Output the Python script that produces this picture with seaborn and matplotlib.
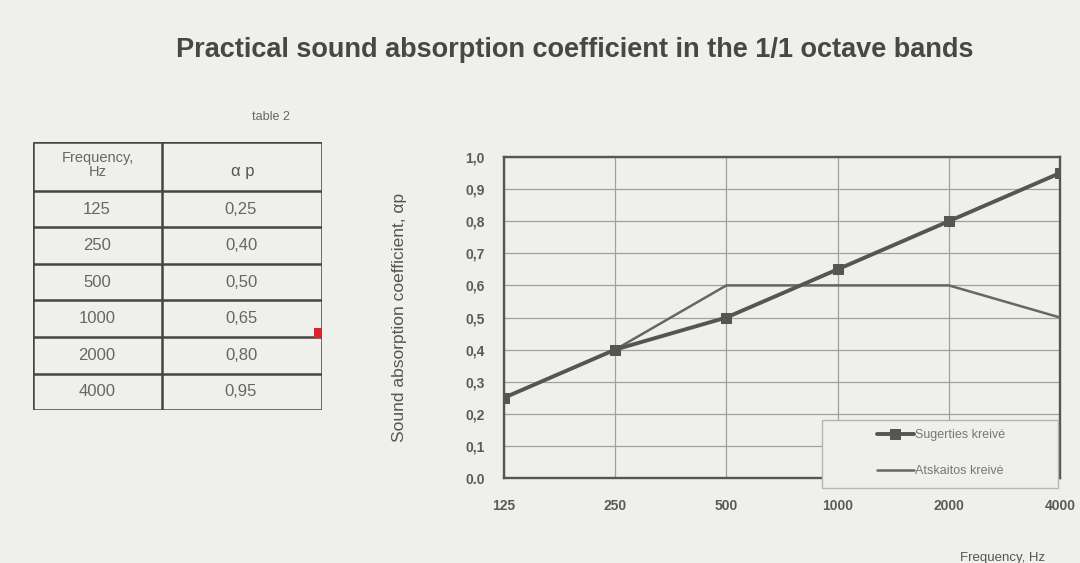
import matplotlib
matplotlib.use("Agg")
import matplotlib.pyplot as plt
from matplotlib.patches import Rectangle
import seaborn as sns
import pandas as pd
import numpy as np

# ---- data ----
freqs = ["125", "250", "500", "1000", "2000", "4000"]
absorption = [0.25, 0.40, 0.50, 0.65, 0.80, 0.95]
reference = [np.nan, 0.40, 0.60, 0.60, 0.60, 0.50]
table_values = ["0,25", "0,40", "0,50", "0,65", "0,80", "0,95"]
y_ticks = [0.0, 0.1, 0.2, 0.3, 0.4, 0.5, 0.6, 0.7, 0.8, 0.9, 1.0]
y_tick_labels = ["0.0", "0,1", "0,2", "0,3", "0,4", "0,5", "0,6", "0,7", "0,8", "0,9", "1,0"]
series_names = ["Sugerties kreivė", "Atskaitos kreivė"]

BG = "#efefec"

sns.set_theme(style="white")
plt.rcParams["font.family"] = ["Liberation Sans", "DejaVu Sans"]

W, H = 1080, 563
fig = plt.figure(figsize=(W / 100, H / 100), dpi=100, facecolor=BG)

def fx(px):
    return px / W

def fy(py):
    return 1 - py / H

# title
fig.text(fx(575), fy(50), "Practical sound absorption coefficient in the 1/1 octave bands",
         ha="center", va="center", fontsize=19.5, fontweight="bold", color="#474747")

# ---- table ----
fig.text(fx(290), fy(117), "table 2", ha="right", va="center", fontsize=9, color="#666666")
tax = fig.add_axes([fx(33), fy(410), fx(322) - fx(33), fy(142) - fy(410)])
tax.set_xlim(33, 322)
tax.set_ylim(410, 142)
tax.axis("off")
row_lines = [142, 191, 227, 264, 300, 337, 374, 410]
for y in row_lines:
    tax.plot([33, 322], [y, y], color="#454545", lw=1.8, solid_capstyle="butt")
for x in [33, 162, 322]:
    tax.plot([x, x], [142, 410], color="#454545", lw=1.8, solid_capstyle="butt")
tax.text(98, 165, "Frequency,\nHz", ha="center", va="center", fontsize=10.5, color="#666666",
         linespacing=1.0)
tax.text(243, 171, "α p", ha="center", va="center", fontsize=12, color="#555555")
for i, (f, v) in enumerate(zip(freqs, table_values)):
    yc = (row_lines[i + 1] + row_lines[i + 2]) / 2
    tax.text(97, yc, f, ha="center", va="center", fontsize=12, color="#666666")
    tax.text(241, yc, v, ha="center", va="center", fontsize=12, color="#666666")

# red scan mark
fig.patches.append(Rectangle((fx(314), fy(338)), fx(8), 10 / H, transform=fig.transFigure,
                             facecolor="#e0202a", edgecolor="none"))

# ---- chart ----
ax = fig.add_axes([fx(504), fy(478), fx(1060) - fx(504), fy(157) - fy(478)])
ax.set_facecolor(BG)

df = pd.DataFrame({
    "freq": freqs * 2,
    "value": absorption + reference,
    "series": [series_names[0]] * len(freqs) + [series_names[1]] * len(freqs),
})
pos = {f: i for i, f in enumerate(freqs)}
df["x"] = df["freq"].map(pos)

d1 = df[df["series"] == series_names[0]]
d2 = df[df["series"] == series_names[1]].dropna()

sns.lineplot(data=d2, x="x", y="value", ax=ax, color="#666666", lw=1.8,
             label=series_names[1], zorder=3)
sns.lineplot(data=d1, x="x", y="value", ax=ax, color="#555555", lw=2.8, marker="s",
             markersize=6.5, markeredgecolor="#555555", label=series_names[0], zorder=4)

ax.set_xlim(0, len(freqs) - 1)
ax.set_ylim(0, 1.0)
ax.set_xticks(range(len(freqs)))
ax.set_xticklabels(freqs, fontsize=10, fontweight="bold", color="#5a5a5a")
ax.set_yticks(y_ticks)
ax.set_yticklabels(y_tick_labels, fontsize=10, fontweight="bold", color="#5a5a5a")
ax.tick_params(axis="x", pad=15, length=0)
ax.tick_params(axis="y", pad=14, length=0)
ax.grid(True, color="#a0a0a0", lw=0.9)
ax.set_axisbelow(True)
for s in ax.spines.values():
    s.set_color("#555555")
    s.set_linewidth(1.7)
ax.set_xlabel("")
ax.set_ylabel("Sound absorption coefficient, αp", fontsize=12.5, color="#555555", labelpad=42)

# legend box
fig.patches.append(Rectangle((fx(822), fy(488)), fx(1058) - fx(822), (488 - 420) / H,
                             transform=fig.transFigure, facecolor=BG, edgecolor="#b5b5b5",
                             lw=1.0, zorder=5))
handles, labels = ax.get_legend_handles_labels()
order = [labels.index(series_names[0]), labels.index(series_names[1])]
leg = fig.legend([handles[i] for i in order], [labels[i] for i in order],
                 loc="center", bbox_to_anchor=(fx(941), fy(453)), frameon=False,
                 fontsize=9, labelspacing=1.9, handlelength=3.0, handletextpad=0.1,
                 labelcolor="#777777")
leg.set_zorder(6)
ax.get_legend().remove()

fig.text(fx(1045), fy(558), "Frequency, Hz", ha="right", va="center", fontsize=9.5, color="#555555")

fig.savefig("out.png", dpi=100, facecolor=BG)
